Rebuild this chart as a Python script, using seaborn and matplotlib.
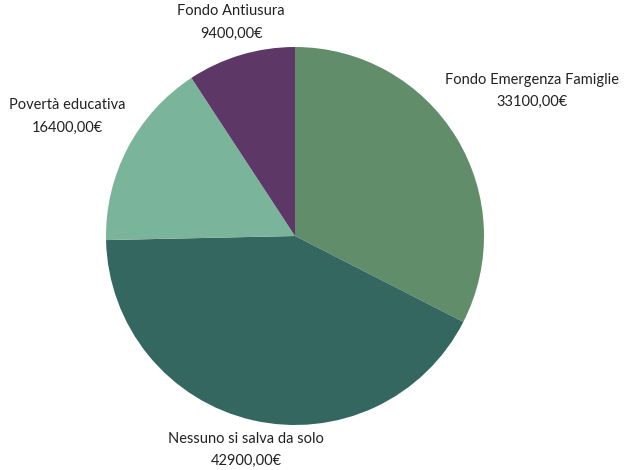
import numpy as np
import seaborn as sns
import matplotlib.pyplot as plt

sns.set_theme(style="white")
plt.rcParams['font.family'] = ['Lato', 'DejaVu Sans']

categories = ["Fondo Emergenza Famiglie", "Nessuno si salva da solo",
              "Povertà educativa", "Fondo Antiusura"]
values = [33100, 42900, 16400, 9400]
colors = ["#618d6a", "#336760", "#7ab49a", "#5d3766"]
label_dist = [1.47, 1.16, 1.36, 1.18]

W, H = 629, 470
fig = plt.figure(figsize=(W / 100, H / 100), dpi=100)
ax = fig.add_axes([0, 0, 1, 1])
ax.set_xlim(0, W)
ax.set_ylim(0, H)
ax.set_axis_off()

cx, cy, r = 295, H - 236, 189
wedges, _ = ax.pie(values, colors=colors, startangle=90, counterclock=False,
                   center=(cx, cy), radius=r, frame=True,
                   wedgeprops=dict(linewidth=0, antialiased=True))
ax.set_xlim(0, W)
ax.set_ylim(0, H)
ax.set_aspect('equal')
ax.set_axis_off()

for w, name, val, d in zip(wedges, categories, values, label_dist):
    ang = np.deg2rad((w.theta1 + w.theta2) / 2)
    x = cx + r * d * np.cos(ang)
    y = cy + r * d * np.sin(ang)
    txt = f"{name}\n{val:.2f}€".replace(".", ",")
    ax.text(x, y, txt, ha="center", va="center", fontsize=10.5,
            color="#222222", linespacing=1.75)

fig.savefig("out.png", dpi=100)
